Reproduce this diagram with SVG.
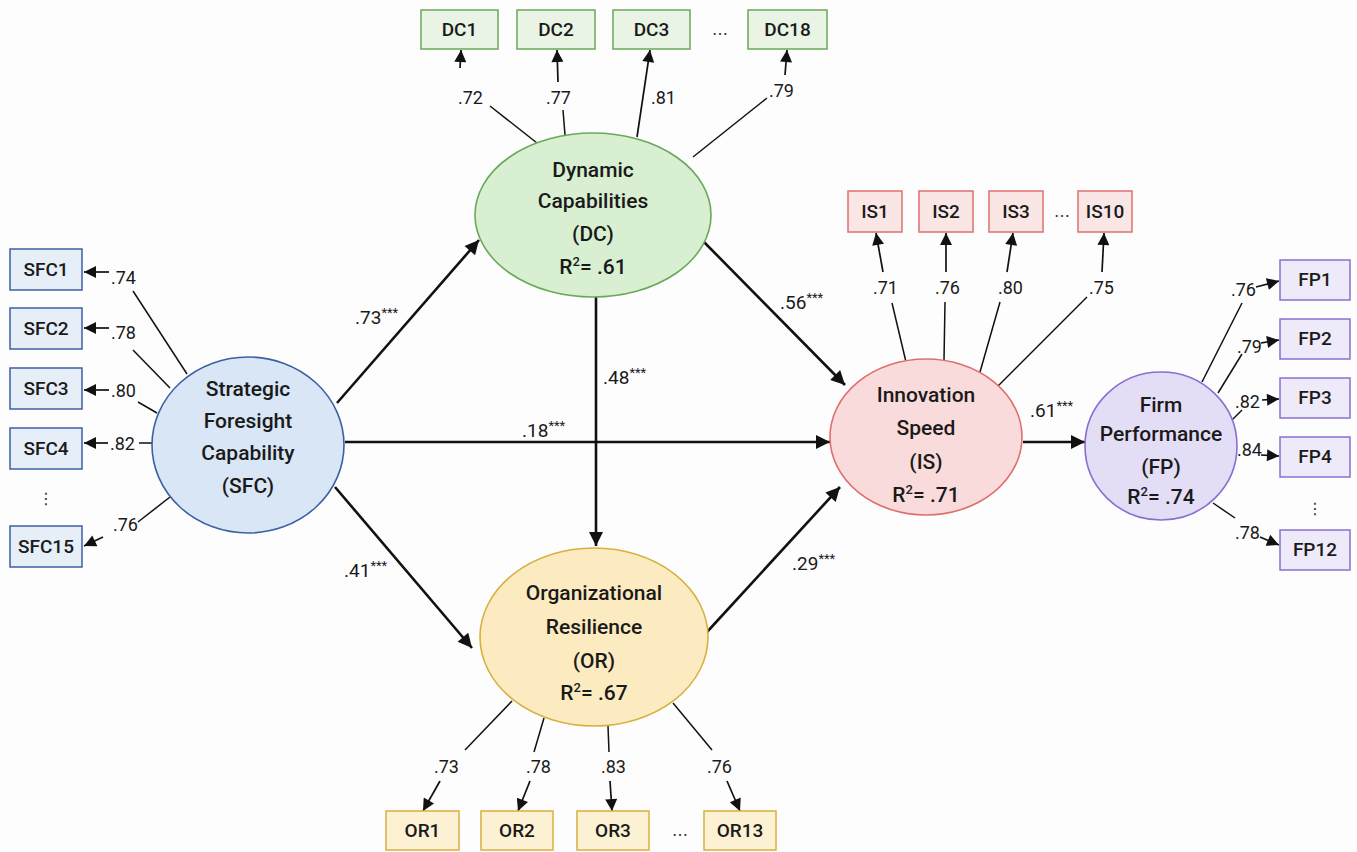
<svg xmlns="http://www.w3.org/2000/svg" width="1357" height="852" viewBox="0 0 1357 852">
<defs>
<marker id="ah" viewBox="0 0 10 10" refX="10" refY="5" markerWidth="17" markerHeight="14" markerUnits="userSpaceOnUse" orient="auto"><path d="M0,0 L10,5 L0,10 z" fill="#111"/></marker>
<marker id="as" viewBox="0 0 10 10" refX="10" refY="5" markerWidth="13" markerHeight="12" markerUnits="userSpaceOnUse" orient="auto"><path d="M0,0 L10,5 L0,10 z" fill="#111"/></marker>
</defs>
<style>
.nt{font-family:Roboto,"Liberation Sans",sans-serif;font-weight:500;font-size:21px;fill:#1a1a1a;text-anchor:middle}
.bt{font-family:Roboto,"Liberation Sans",sans-serif;font-weight:500;font-size:19px;fill:#1a1a1a;text-anchor:middle}
.ld{font-family:Roboto,"Liberation Sans",sans-serif;font-size:18px;fill:#1a1a1a}
.pl{font-family:Roboto,"Liberation Sans",sans-serif;font-weight:400;font-size:19px;fill:#1a1a1a}
.st{font-size:13px}
.sup{font-size:13px}
.ln{stroke:#111;stroke-width:1.5;fill:none}
.la{stroke:#111;stroke-width:1.7;fill:none;marker-end:url(#as)}
.pa{stroke:#111;stroke-width:2.6;fill:none;marker-end:url(#ah)}
.dots{font-family:"DejaVu Sans",sans-serif;font-size:16px;fill:#333;text-anchor:middle}
.sfc{fill:#d8e6f6;stroke:#3d5fa3;stroke-width:1.6}
.sfcb{fill:#e6eef8;stroke:#3d5fa3;stroke-width:1.5}
.dc{fill:#d9efd2;stroke:#6aa85a;stroke-width:1.6}
.dcb{fill:#e9f4e5;stroke:#6aa85a;stroke-width:1.5}
.is{fill:#fadbdb;stroke:#df6f6f;stroke-width:1.6}
.isb{fill:#fbe6e6;stroke:#df6f6f;stroke-width:1.5}
.fp{fill:#e4ddf6;stroke:#8a6fd0;stroke-width:1.6}
.fpb{fill:#eeeaf9;stroke:#8a6fd0;stroke-width:1.5}
.or{fill:#fcebc0;stroke:#d8b040;stroke-width:1.6}
.orb{fill:#fdf1d4;stroke:#d8b040;stroke-width:1.5}
</style>
<rect width="1357" height="852" fill="#fdfdfd"/>

<g id="connectors">
<path class="pa" d="M337,403 L479,240"/>
<path class="pa" d="M345,442 L830,442"/>
<path class="pa" d="M335,487 L472,648"/>
<path class="pa" d="M702,240 L845,385"/>
<path class="pa" d="M596,297 L596,546"/>
<path class="pa" d="M707,632 L840,487"/>
<path class="pa" d="M1023,442 L1085,442"/>
<text class="pl" x="355" y="324">.73<tspan class="st" dy="-7">***</tspan></text>
<text class="pl" x="522" y="437">.18<tspan class="st" dy="-7">***</tspan></text>
<text class="pl" x="344" y="577">.41<tspan class="st" dy="-7">***</tspan></text>
<text class="pl" x="780" y="309">.56<tspan class="st" dy="-7">***</tspan></text>
<text class="pl" x="603" y="384">.48<tspan class="st" dy="-7">***</tspan></text>
<text class="pl" x="792" y="570">.29<tspan class="st" dy="-7">***</tspan></text>
<text class="pl" x="1030" y="417">.61<tspan class="st" dy="-7">***</tspan></text>

<!-- SFC loadings -->
<path class="ln" d="M187,374 L133,291"/><text class="ld" x="111" y="284">.74</text><path class="la" d="M109,272 L84,272"/>
<path class="ln" d="M170,388 L133,350"/><text class="ld" x="111" y="339">.78</text><path class="la" d="M109,328 L84,328"/>
<path class="ln" d="M157,413 L138,402"/><text class="ld" x="111" y="397">.80</text><path class="la" d="M109,390 L84,390"/>
<path class="ln" d="M152,443 L139,443"/><text class="ld" x="110" y="450">.82</text><path class="la" d="M108,443 L84,443"/>
<path class="ln" d="M170,497 L138,522"/><text class="ld" x="113" y="531">.76</text><path class="la" d="M103,537 L84,546"/>

<!-- DC loadings -->
<path class="ln" d="M537,143 L490,106"/><text class="ld" x="458" y="104">.72</text><path class="la" d="M460,68 L461,50"/>
<path class="ln" d="M565,135 L563,110"/><text class="ld" x="546" y="104">.77</text><path class="la" d="M558,82 L557,50"/>
<path class="la" d="M637,137 L650,50"/><text class="ld" x="651" y="104">.81</text>
<path class="ln" d="M693,157 L767,98"/><text class="ld" x="769" y="97">.79</text><path class="la" d="M785,75 L787,50"/>

<!-- IS loadings -->
<path class="ln" d="M906,362 L892,303"/><text class="ld" x="873" y="294">.71</text><path class="la" d="M883,272 L876,233"/>
<path class="ln" d="M944,360 L945,302"/><text class="ld" x="935" y="294">.76</text><path class="la" d="M946,272 L946,233"/>
<path class="ln" d="M980,372 L1000,302"/><text class="ld" x="998" y="294">.80</text><path class="la" d="M1007,272 L1013,233"/>
<path class="ln" d="M998,386 L1087,297"/><text class="ld" x="1089" y="294">.75</text><path class="la" d="M1102,272 L1104,233"/>

<!-- FP loadings -->
<path class="ln" d="M1202,382 L1242,303"/><text class="ld" x="1231" y="296">.76</text><path class="la" d="M1256,287 L1279,281"/>
<path class="ln" d="M1218,393 L1242,354"/><text class="ld" x="1237" y="353">.79</text><path class="la" d="M1261,343 L1279,340"/>
<path class="ln" d="M1232,420 L1242,410"/><text class="ld" x="1235" y="408">.82</text><path class="la" d="M1262,400 L1279,399"/>
<text class="ld" x="1237" y="456">.84</text><path class="la" d="M1261,455 L1279,456"/>
<path class="ln" d="M1213,503 L1235,518"/><text class="ld" x="1235" y="539">.78</text><path class="la" d="M1260,537 L1279,545"/>

<!-- OR loadings -->
<path class="ln" d="M512,701 L465,750"/><text class="ld" x="434" y="773">.73</text><path class="la" d="M440,781 L423,811"/>
<path class="ln" d="M544,718 L534,752"/><text class="ld" x="526" y="773">.78</text><path class="la" d="M530,781 L518,811"/>
<path class="ln" d="M608,726 L609,752"/><text class="ld" x="601" y="773">.83</text><path class="la" d="M610,781 L612,811"/>
<path class="ln" d="M673,703 L712,750"/><text class="ld" x="707" y="773">.76</text><path class="la" d="M727,781 L740,811"/>
</g>

<g id="SFC">
<ellipse class="sfc" cx="248" cy="445" rx="96" ry="88"/>
<text class="nt" x="248" y="396">Strategic</text>
<text class="nt" x="248" y="428">Foresight</text>
<text class="nt" x="248" y="460">Capability</text>
<text class="nt" x="248" y="493">(SFC)</text>
</g>
<g id="SFC-items">
<rect class="sfcb" x="10" y="249" width="72" height="41"/><text class="bt" x="46" y="276">SFC1</text>
<rect class="sfcb" x="10" y="308" width="72" height="41"/><text class="bt" x="46" y="335">SFC2</text>
<rect class="sfcb" x="10" y="368" width="72" height="41"/><text class="bt" x="46" y="395">SFC3</text>
<rect class="sfcb" x="10" y="428" width="72" height="41"/><text class="bt" x="46" y="455">SFC4</text>
<text class="dots" x="46" y="504">⋮</text>
<rect class="sfcb" x="10" y="526" width="72" height="41"/><text class="bt" x="46" y="553">SFC15</text>
</g>

<g id="DC">
<ellipse class="dc" cx="593" cy="215" rx="118" ry="82"/>
<text class="nt" x="593" y="177">Dynamic</text>
<text class="nt" x="593" y="208">Capabilities</text>
<text class="nt" x="593" y="241">(DC)</text>
<text class="nt" x="593" y="274">R<tspan class="sup" dy="-8">2</tspan><tspan dy="8">= .61</tspan></text>
</g>
<g id="DC-items">
<rect class="dcb" x="421" y="10" width="77" height="39"/><text class="bt" x="459.5" y="36">DC1</text>
<rect class="dcb" x="517" y="10" width="78" height="39"/><text class="bt" x="556" y="36">DC2</text>
<rect class="dcb" x="613" y="10" width="77" height="39"/><text class="bt" x="651.5" y="36">DC3</text>
<text class="dots" x="720" y="35">…</text>
<rect class="dcb" x="748" y="10" width="79" height="39"/><text class="bt" x="787.5" y="36">DC18</text>
</g>

<g id="IS">
<ellipse class="is" cx="926" cy="437" rx="96" ry="78"/>
<text class="nt" x="926" y="402">Innovation</text>
<text class="nt" x="926" y="435">Speed</text>
<text class="nt" x="926" y="469">(IS)</text>
<text class="nt" x="926" y="502">R<tspan class="sup" dy="-8">2</tspan><tspan dy="8">= .71</tspan></text>
</g>
<g id="IS-items">
<rect class="isb" x="848" y="191" width="54" height="41"/><text class="bt" x="875" y="218">IS1</text>
<rect class="isb" x="919" y="191" width="54" height="41"/><text class="bt" x="946" y="218">IS2</text>
<rect class="isb" x="989" y="191" width="54" height="41"/><text class="bt" x="1016" y="218">IS3</text>
<text class="dots" x="1062" y="217">…</text>
<rect class="isb" x="1078" y="191" width="54" height="41"/><text class="bt" x="1105" y="218">IS10</text>
</g>

<g id="FP">
<ellipse class="fp" cx="1161" cy="446" rx="76" ry="74"/>
<text class="nt" x="1161" y="412">Firm</text>
<text class="nt" x="1161" y="441">Performance</text>
<text class="nt" x="1161" y="474">(FP)</text>
<text class="nt" x="1161" y="504">R<tspan class="sup" dy="-8">2</tspan><tspan dy="8">= .74</tspan></text>
</g>
<g id="FP-items">
<rect class="fpb" x="1280" y="260" width="70" height="40"/><text class="bt" x="1315" y="286">FP1</text>
<rect class="fpb" x="1280" y="319" width="70" height="40"/><text class="bt" x="1315" y="345">FP2</text>
<rect class="fpb" x="1280" y="378" width="70" height="40"/><text class="bt" x="1315" y="404">FP3</text>
<rect class="fpb" x="1280" y="437" width="70" height="40"/><text class="bt" x="1315" y="463">FP4</text>
<text class="dots" x="1315" y="514">⋮</text>
<rect class="fpb" x="1280" y="530" width="70" height="40"/><text class="bt" x="1315" y="556">FP12</text>
</g>

<g id="OR">
<ellipse class="or" cx="594" cy="637" rx="114" ry="89"/>
<text class="nt" x="594" y="600">Organizational</text>
<text class="nt" x="594" y="634">Resilience</text>
<text class="nt" x="594" y="668">(OR)</text>
<text class="nt" x="594" y="700">R<tspan class="sup" dy="-8">2</tspan><tspan dy="8">= .67</tspan></text>
</g>
<g id="OR-items">
<rect class="orb" x="386" y="811" width="73" height="39"/><text class="bt" x="422.5" y="837">OR1</text>
<rect class="orb" x="481" y="811" width="72" height="39"/><text class="bt" x="517" y="837">OR2</text>
<rect class="orb" x="577" y="811" width="72" height="39"/><text class="bt" x="613" y="837">OR3</text>
<text class="dots" x="680" y="836">…</text>
<rect class="orb" x="704" y="811" width="72" height="39"/><text class="bt" x="740" y="837">OR13</text>
</g>
</svg>
